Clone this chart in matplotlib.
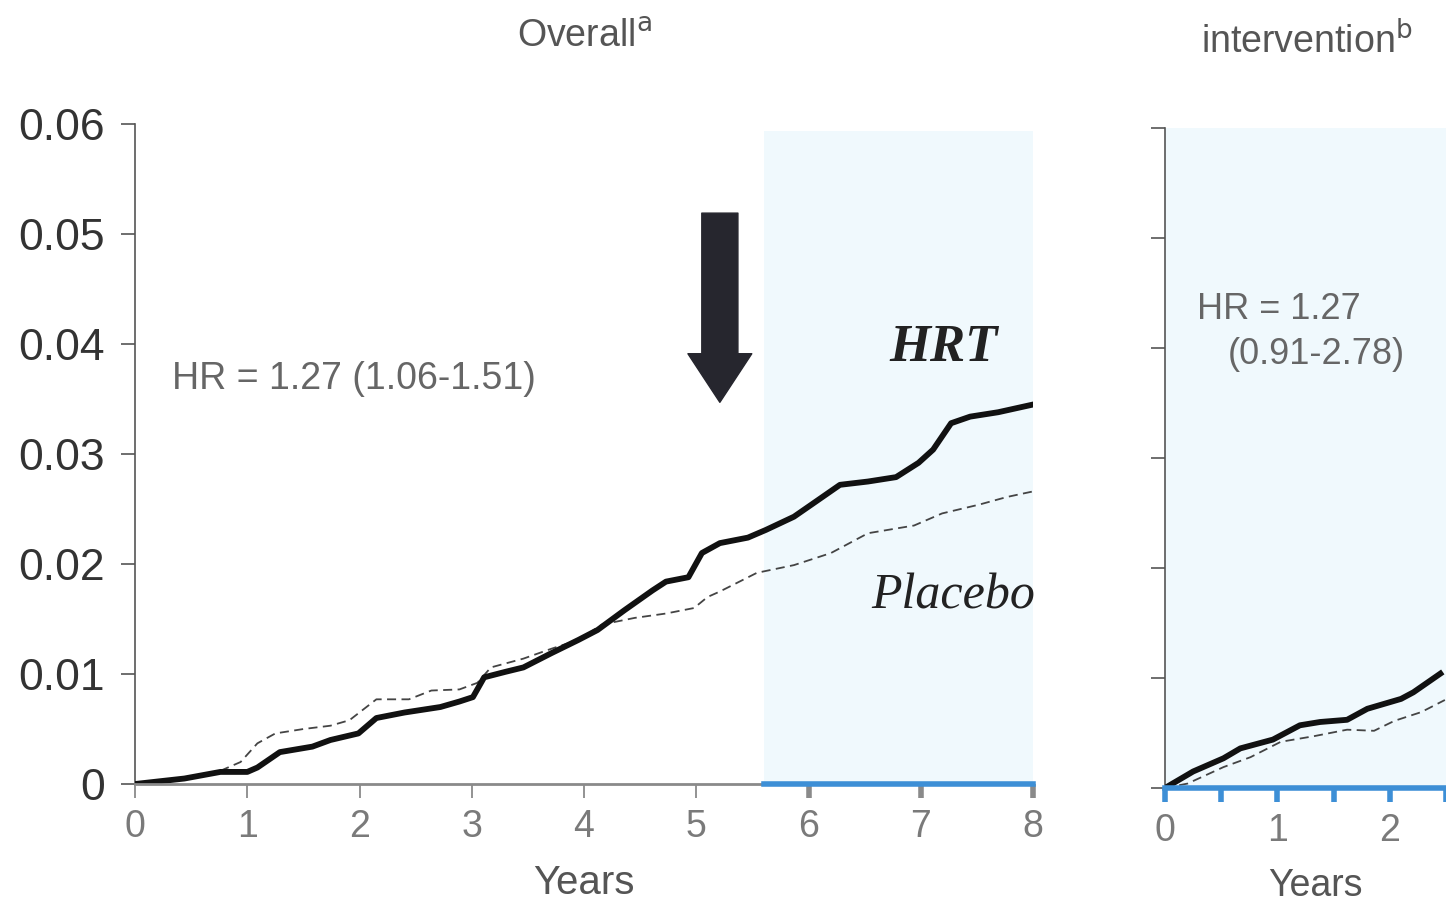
import matplotlib
matplotlib.use("Agg")
import matplotlib.pyplot as plt


# =========================
# 1. Data
# =========================

# Overall panel, cumulative hazard by year
hrt_years = [0, 0.44, 0.76, 1.0, 1.09, 1.29, 1.58, 1.74, 1.99, 2.15, 2.40, 2.72, 2.89,
             3.01, 3.11, 3.30, 3.46, 3.71, 3.95, 4.12, 4.36, 4.61, 4.73, 4.93, 5.05,
             5.21, 5.46, 5.62, 5.87, 6.04, 6.28, 6.53, 6.78, 6.98, 7.11, 7.27, 7.44,
             7.69, 8.0]
hrt_risk = [0, 0.0005, 0.0011, 0.0011, 0.0015, 0.0029, 0.0034, 0.0040, 0.0046, 0.0060,
            0.0065, 0.0070, 0.0075, 0.0079, 0.0097, 0.0102, 0.0106, 0.0119, 0.0131,
            0.0140, 0.0158, 0.0176, 0.0184, 0.0188, 0.0210, 0.0219, 0.0224, 0.0231,
            0.0243, 0.0255, 0.0272, 0.0275, 0.0279, 0.0292, 0.0304, 0.0328, 0.0334,
            0.0338, 0.0345]

placebo_years = [0, 0.44, 0.76, 0.94, 1.09, 1.25, 1.50, 1.74, 1.91, 2.15, 2.44, 2.64,
                 2.89, 3.05, 3.17, 3.46, 3.71, 3.95, 4.16, 4.45, 4.73, 4.98, 5.10, 5.21,
                 5.54, 5.87, 6.2, 6.53, 6.94, 7.19, 7.52, 7.77, 8.0]
placebo_risk = [0, 0.0004, 0.0012, 0.0020, 0.0037, 0.0046, 0.0050, 0.0053, 0.0058,
                0.0077, 0.0077, 0.0085, 0.0086, 0.0092, 0.0106, 0.0114, 0.0123, 0.0131,
                0.0145, 0.0151, 0.0155, 0.0160, 0.0170, 0.0175, 0.0192, 0.0199, 0.0210,
                0.0228, 0.0235, 0.0246, 0.0254, 0.0261, 0.0266]

# Post-intervention panel
post_hrt_years = [0, 0.25, 0.52, 0.67, 0.96, 1.2, 1.38, 1.62, 1.8, 2.1, 2.21, 2.45]
post_hrt_risk = [0, 0.0015, 0.0027, 0.0036, 0.0044, 0.0057, 0.0060, 0.0062, 0.0072,
                 0.0081, 0.0087, 0.0104]

post_placebo_years = [0, 0.2, 0.52, 0.76, 1.03, 1.32, 1.62, 1.86, 2.04, 2.28, 2.49]
post_placebo_risk = [0, 0.0004, 0.0019, 0.0028, 0.0042, 0.0047, 0.0053, 0.0052,
                     0.0061, 0.0069, 0.0080]

y_ticks = [0, 0.01, 0.02, 0.03, 0.04, 0.05, 0.06]
y_tick_labels = ["0", "0.01", "0.02", "0.03", "0.04", "0.05", "0.06"]
x_ticks_overall = [0, 1, 2, 3, 4, 5, 6, 7, 8]
x_ticks_post = [0, 0.5, 1, 1.5, 2, 2.5]
shade_start = 5.6
arrow_year = 5.21


# =========================
# 2. Styles
# =========================

plt.rcParams["font.family"] = ["Liberation Sans", "DejaVu Sans"]

shade = "#f0f9fd"
blue = "#3d8fd6"
axis_grey = "#555555"
tick_grey = "#7a7a7a"
text_grey = "#555555"

fig = plt.figure(figsize=(14.46, 9.02), dpi=100)
ax = fig.add_axes([0.0934, 0.1308, 0.6210, 0.7317])
ax2 = fig.add_axes([0.8057, 0.1264, 0.1943, 0.7317])


# =========================
# 3. Overall panel
# =========================

ax.axvspan(shade_start, 8, ymin=0, ymax=0.99, color=shade, lw=0, zorder=0)
ax.plot(hrt_years, hrt_risk, color="#111111", lw=4.2, zorder=3)
ax.plot(placebo_years, placebo_risk, color="#444444", lw=1.3,
        ls=(0, (5, 3)), zorder=2)

ax.set_xlim(0, 8)
ax.set_ylim(0, 0.06)
for s in ["top", "right", "bottom"]:
    ax.spines[s].set_visible(False)
ax.spines["left"].set_color(axis_grey)
ax.spines["left"].set_linewidth(1.2)

# bottom axis: grey part, then blue part in the shaded zone
ax.plot([0, shade_start], [0, 0], color="#8a8a8a", lw=2, clip_on=False, zorder=4)
ax.plot([shade_start, 8], [0, 0], color=blue, lw=4, clip_on=False, zorder=4)

ax.set_yticks(y_ticks)
ax.set_yticklabels(y_tick_labels)
ax.tick_params(axis="y", length=10, width=1.2, color=axis_grey, labelsize=32,
               labelcolor="#333333", pad=12)
ax.set_xticks(x_ticks_overall)
ax.set_xticklabels([str(t) for t in x_ticks_overall])
ax.tick_params(axis="x", length=10, width=1.3, color="#8a8a8a", labelsize=27,
               labelcolor=tick_grey, pad=8)
for t, tick in zip(x_ticks_overall, ax.xaxis.get_major_ticks()):
    if t > shade_start:
        tick.tick1line.set_color(blue)
        tick.tick1line.set_markeredgewidth(4)

ax.set_xlabel("Years", fontsize=29, color=text_grey, labelpad=14)
ax.text(0.5, 1.132, "Overall$^{\\mathrm{a}}$", transform=ax.transAxes,
        fontsize=27, color=text_grey, ha="center", va="center")

ax.text(0.33, 0.0368, "HR = 1.27 (1.06-1.51)", fontsize=27, color="#666666",
        va="center", ha="left")
ax.text(7.2, 0.0396, "HRT", fontsize=38, fontweight="bold", style="italic",
        family="Liberation Serif", color="#222222", va="center", ha="center")
ax.text(7.29, 0.0171, "Placebo", fontsize=36, style="italic",
        family="Liberation Serif", color="#222222", va="center", ha="center")

ax.annotate("", xy=(arrow_year, 0.0347), xytext=(arrow_year, 0.0519),
            arrowprops=dict(arrowstyle="simple,head_width=4.6,head_length=3.5,tail_width=2.6",
                            mutation_scale=10, color="#26262e", shrinkA=0, shrinkB=0))


# =========================
# 4. Post-intervention panel
# =========================

ax2.set_facecolor(shade)
ax2.plot(post_hrt_years, post_hrt_risk, color="#111111", lw=4.2, zorder=3)
ax2.plot(post_placebo_years, post_placebo_risk, color="#444444", lw=1.3,
         ls=(0, (5, 3)), zorder=2)

ax2.set_xlim(0, 2.5)
ax2.set_ylim(0, 0.06)
for s in ["top", "right", "bottom"]:
    ax2.spines[s].set_visible(False)
ax2.spines["left"].set_color(axis_grey)
ax2.spines["left"].set_linewidth(1.2)
ax2.plot([0, 2.5], [0, 0], color=blue, lw=4, clip_on=False, zorder=4)

ax2.set_yticks(y_ticks)
ax2.set_yticklabels([])
ax2.tick_params(axis="y", length=10, width=1.2, color=axis_grey)
ax2.set_xticks(x_ticks_post)
ax2.set_xticklabels(["0", "", "1", "", "2", ""])
ax2.tick_params(axis="x", length=10, width=4, color=blue, labelsize=27,
                labelcolor=tick_grey, pad=8)

ax2.text(0.535, -0.148, "Years", transform=ax2.transAxes, fontsize=27,
         color=text_grey, ha="center", va="center")
ax2.text(0.505, 1.13, "intervention$^{\\mathrm{b}}$", transform=ax2.transAxes,
         fontsize=27, color=text_grey, ha="center", va="center")

ax2.text(0.28, 0.0435, "HR = 1.27", fontsize=26, color="#666666", va="center", ha="left")
ax2.text(0.56, 0.0394, "(0.91-2.78)", fontsize=26, color="#666666", va="center", ha="left")

fig.savefig("out.png", dpi=100)
